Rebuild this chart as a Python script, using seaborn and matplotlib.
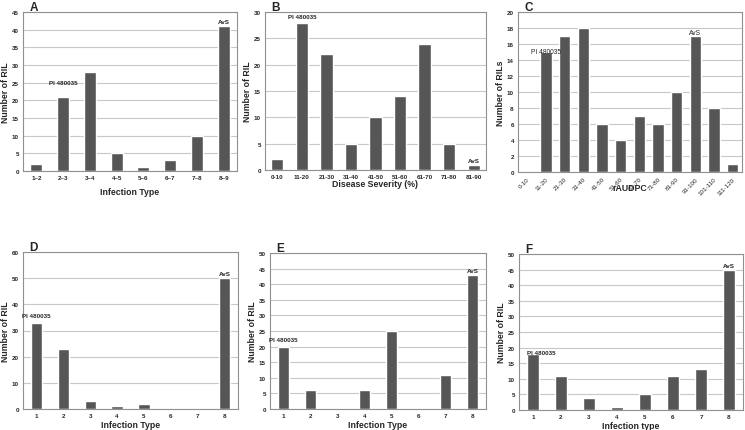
"""Six histograms of RIL counts (panels A-F) redrawn with seaborn."""

from matplotlib import pyplot as plt
import seaborn as sns

# panel A
a_cats = ["1–2", "2–3", "3–4", "4–5", "5–6", "6–7", "7–8", "8–9"]
a_vals = [2, 21, 28, 5, 1, 3, 10, 41]
# panel B
b_cats = ["0-10", "11-20", "21-30", "31-40", "41-50", "51-60", "61-70",
          "71-80", "81-90"]
b_vals = [2, 28, 22, 5, 10, 14, 24, 5, 1]
# panel C
c_cats = ["0-10", "11-20", "21-30", "31-40", "41-50", "51-60", "61-70",
          "71-80", "81-90", "91-100", "101-110", "111-120"]
c_vals = [0, 15, 17, 18, 6, 4, 7, 6, 10, 17, 8, 1]
# panels D, E, F
it_cats = ["1", "2", "3", "4", "5", "6", "7", "8"]
d_vals = [33, 23, 3, 1, 2, 0, 0, 50]
e_vals = [20, 6, 0, 6, 25, 0, 11, 43]
f_vals = [18, 11, 4, 1, 5, 11, 13, 45]

BAR = "#565656"
W, H = 745, 431

sns.set_style("white")
plt.rcParams["font.family"] = ["Liberation Sans", "DejaVu Sans"]

fig = plt.figure(figsize=(W / 100, H / 100), dpi=100)


def box(x0, y0, x1, y1):
    return [x0 / W, 1 - y1 / H, (x1 - x0) / W, (y1 - y0) / H]


# letter, axes box, categories, values, ymax, step, xlabel, ylabel,
# bar width, PI index, AvS index, PI offset (data units), xlabel pad
panels = [
    ("A", box(23, 13, 237, 172), a_cats, a_vals, 45, 5, "Infection Type",
     "Number of RIL", 0.45, 1, 7, 2.8, 5),
    ("B", box(265, 13, 486, 171), b_cats, b_vals, 30, 5,
     "Disease Severity (%)", "Number of RIL", 0.5, 1, 8, 0.4, 0),
    ("C", box(518, 13, 742, 173), c_cats, c_vals, 20, 2, "rAUDPC",
     "Number of RILs", 0.6, 1, 9, 0, -9),
    ("D", box(23, 253, 238, 410), it_cats, d_vals, 60, 10, "Infection Type",
     "Number of RIL", 0.42, 0, 7, 1.2, 1),
    ("E", box(270, 254, 486, 410), it_cats, e_vals, 50, 5, "Infection Type",
     "Number of RIL", 0.42, 0, 7, 1.0, 1),
    ("F", box(519, 255, 743, 411), it_cats, f_vals, 50, 5, "Infection type",
     "Number of RIL", 0.42, 0, 7, 0, 1),
]

for (letter, pos, cats, vals, ymax, step, xlab, ylab, width,
     pi_idx, avs_idx, pi_off, xpad) in panels:
    ax = fig.add_axes(pos)
    sns.barplot(x=cats, y=vals, order=cats, color=BAR, width=width,
                saturation=1, ax=ax, zorder=2)
    ax.set_ylim(0, ymax)
    ax.set_yticks(range(0, ymax + 1, step))
    ax.grid(axis="y", color="#c8c8c8", linewidth=0.8, zorder=0)
    ax.set_axisbelow(True)
    for sp in ax.spines.values():
        sp.set_color("#909090")
        sp.set_linewidth(0.8)
    ax.tick_params(axis="both", labelsize=4.5, length=1.5, width=0.6,
                   color="#909090", pad=1.5)
    for lbl in ax.get_xticklabels() + ax.get_yticklabels():
        lbl.set_fontweight("bold")
    if letter == "C":
        for lbl in ax.get_xticklabels():
            lbl.set_rotation(45)
            lbl.set_ha("right")
            lbl.set_rotation_mode("anchor")
            lbl.set_fontweight("normal")
    ax.set_xlabel(xlab, fontsize=6.3, fontweight="bold", labelpad=xpad)
    ax.set_ylabel(ylab, fontsize=6.3, fontweight="bold", labelpad=1.5)
    ax.text(0.03, 1.012, letter, transform=ax.transAxes, fontsize=8.5,
            fontweight="bold", ha="left", va="baseline")

    off = ymax * 0.012
    if letter == "C":
        ax.text(pi_idx, vals[pi_idx], "PI 480035", fontsize=4.8,
                ha="center", va="center")
        ax.text(avs_idx, vals[avs_idx], "AvS", fontsize=4.8, ha="center",
                va="bottom")
    elif letter == "F":
        ax.text(pi_idx - width / 2, vals[pi_idx] + off * 0.5, "PI 480035",
                fontsize=4.5, fontweight="bold", ha="left", va="center")
        ax.text(avs_idx, vals[avs_idx] + off, "AvS", fontsize=4.5,
                fontweight="bold", ha="center", va="bottom")
    else:
        ax.text(pi_idx, vals[pi_idx] + pi_off + off, "PI 480035",
                fontsize=4.5, fontweight="bold", ha="center", va="bottom")
        ax.text(avs_idx, vals[avs_idx] + off, "AvS", fontsize=4.5,
                fontweight="bold", ha="center", va="bottom")

fig.savefig("out.png", dpi=100)
